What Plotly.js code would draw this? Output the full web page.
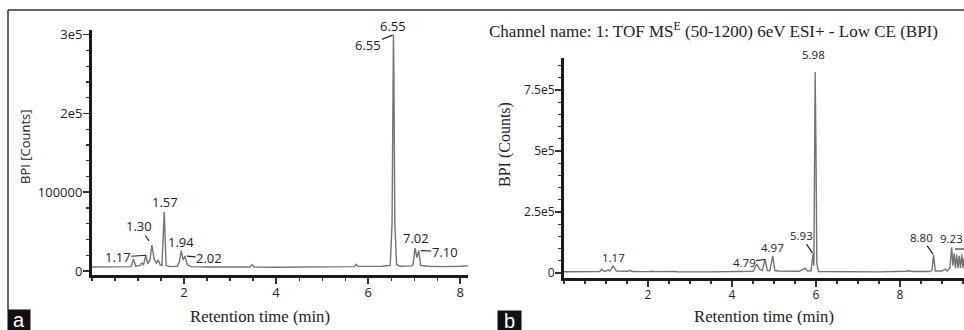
<!DOCTYPE html>
<html>
<head>
<meta charset="utf-8">
<script src="https://cdn.plot.ly/plotly-3.0.1.min.js"></script>
<style>html,body{margin:0;padding:0;background:#fff;}#chart{width:964px;height:330px;}</style>
</head>
<body>
<div id="chart"></div>
<script>
// ---- Panel a data: retention time (min) vs BPI counts ----
const timeA = [0.00,0.30,0.60,0.85,0.90,0.95,1.05,1.08,1.12,1.17,1.21,1.26,1.30,1.35,1.40,1.44,1.48,1.52,1.57,1.61,1.70,1.85,1.90,1.94,1.98,2.02,2.07,2.15,2.50,3.00,3.44,3.48,3.52,4.00,5.00,5.70,5.74,5.78,6.30,6.48,6.52,6.54,6.55,6.56,6.58,6.62,6.70,6.95,6.98,7.02,7.06,7.10,7.14,7.30,7.60,8.00,8.17];
const countsA = [5000,5200,5000,5500,15000,6000,7000,10000,8000,20000,9000,14000,33000,15000,10000,14000,8000,7000,75000,7000,5500,6000,12000,26000,14000,19000,8000,5500,5000,4800,5000,8000,5000,4800,5000,5500,8500,5800,6000,7000,60000,260000,300000,250000,60000,8000,6000,6500,9000,29000,17000,26000,7000,6000,5500,6000,6500];
const labelsA = ['1.17','1.30','1.57','1.94','2.02','6.55','6.55','7.02','7.10'];
const labelTimesA = [1.17,1.30,1.57,1.94,2.02,6.55,6.55,7.02,7.10];
const yTickValsA = [0,100000,200000,300000];
const yTickTextA = ['0','100000','2e5','3e5'];
const xTickValsA = [2,4,6,8];

// ---- Panel b data ----
const timeB = [0.00,0.50,0.85,0.90,0.95,1.00,1.05,1.09,1.17,1.25,1.40,1.52,1.57,1.62,1.90,1.96,2.02,2.10,2.18,2.60,2.70,3.50,4.20,4.50,4.59,4.66,4.72,4.79,4.84,4.90,4.97,5.02,5.10,5.60,5.74,5.80,5.88,5.93,5.95,5.96,5.98,6.00,6.02,6.06,6.50,7.50,8.15,8.20,8.30,8.70,8.76,8.80,8.84,9.00,9.08,9.12,9.19,9.23,9.26,9.29,9.32,9.35,9.38,9.41,9.44,9.47,9.50,9.52];
const countsB = [5000,5000,6000,15000,7000,8000,13000,8000,29000,8000,6000,7000,11000,6000,5500,7000,5500,7000,5500,6500,5000,4500,5000,7000,36000,15000,10000,56000,10000,9000,70000,10000,8000,7000,19000,8000,9000,78000,30000,300000,824000,500000,40000,6000,5000,4500,7000,9000,6000,6000,10000,74000,8000,8000,16000,8000,20000,105000,30000,80000,20000,75000,20000,70000,20000,75000,20000,60000];
const labelsB = ['1.17','4.79','4.97','5.93','5.98','8.80','9.23'];
const labelTimesB = [1.17,4.79,4.97,5.93,5.98,8.80,9.23];
const yTickValsB = [0,250000,500000,750000];
const yTickTextB = ['0','2.5e5','5e5','7.5e5'];
const xTickValsB = [2,4,6,8];

// ---- label placement (pixels), separate from data ----
// [type, dx, dy, standoff]; type 'arrow' => leader line; 'free' => text only
const placeA = [['arrow',-28,2,0],['arrow',-13,-19,5],['free',1,-10],['free',0,-9],['arrow',24,2,2],['free',0,-9],['arrow',-25,10,1],['free',1,-10],['arrow',26,1,2]];
const placeB = [['free',0,-8],['arrow',-21,3,0],['free',0,-8],['arrow',-12,-18,1],['free',-2,-17],['arrow',-12,-17,1],['free',0,-9]];

function nearestCount(times, counts, t){
  let best = 0;
  for (let i = 1; i < times.length; i++) if (Math.abs(times[i]-t) < Math.abs(times[best]-t)) best = i;
  return counts[best];
}

const W = 964, H = 330;
const px = v => v / W;
const py = v => (H - v) / H;

const sans = 'Open Sans, Noto Sans, sans-serif';
const serif = 'Liberation Serif, DejaVu Serif, serif';

function makeLabels(labels, times, tser, cser, place, xr, yr, size){
  return labels.map((txt, i) => {
    const p = place[i];
    const y = nearestCount(tser, cser, times[i]);
    const base = {x: times[i], y: y, xref: xr, yref: yr, text: txt,
      font: {family: sans, size: size, color: '#222'}};
    if (p[0] === 'arrow') {
      return Object.assign(base, {showarrow: true, arrowhead: 0, arrowwidth: 1.2, arrowcolor: '#222',
        ax: p[1], ay: p[2], standoff: p[3], borderpad: 0});
    }
    return Object.assign(base, {showarrow: false, xshift: p[1], yshift: -p[2], yanchor: 'middle', xanchor: 'center'});
  });
}

const traces = [
  {x: timeA, y: countsA, type: 'scatter', mode: 'lines', xaxis: 'x', yaxis: 'y',
   line: {color: '#747474', width: 1.4}, hoverinfo: 'skip'},
  {x: timeB, y: countsB, type: 'scatter', mode: 'lines', xaxis: 'x2', yaxis: 'y2',
   line: {color: '#747474', width: 1.4}, hoverinfo: 'skip'}
];

const axisCommon = {showline: true, linewidth: 3, linecolor: '#1a1a1a', ticks: 'outside', ticklen: 6,
  tickwidth: 1.5, tickcolor: '#333', showgrid: false, zeroline: false, fixedrange: true};

function paperText(x, y, text, font, extra){
  return Object.assign({xref: 'paper', yref: 'paper', x: px(x), y: py(y), text: text, showarrow: false,
    xanchor: 'center', yanchor: 'middle', font: font}, extra || {});
}

const layout = {
  width: W, height: H, autosize: false,
  margin: {l: 0, r: 0, t: 0, b: 0},
  paper_bgcolor: '#fff', plot_bgcolor: 'rgba(0,0,0,0)',
  showlegend: false,
  xaxis: Object.assign({}, axisCommon, {domain: [px(92), px(468)], range: [0, 8.17], anchor: 'y',
    tickmode: 'array', tickvals: xTickValsA, ticktext: xTickValsA.map(String), ticklabelstandoff: -3,
    tickfont: {family: sans, size: 13, color: '#222'},
    minor: {ticks: 'outside', ticklen: 3, tickwidth: 1.2, tickcolor: '#333', dtick: 0.5, tick0: 0}}),
  yaxis: Object.assign({}, axisCommon, {domain: [py(275), py(30)], range: [-5100, 306000], anchor: 'x',
    tickmode: 'array', tickvals: yTickValsA, ticktext: yTickTextA, ticklabelstandoff: -2,
    tickfont: {family: sans, size: 13, color: '#222'},
    minor: {ticks: 'outside', ticklen: 3, tickwidth: 1.2, tickcolor: '#333', dtick: 20000, tick0: 0}}),
  xaxis2: Object.assign({}, axisCommon, {domain: [px(564), 1], range: [0, 9.524], anchor: 'y2',
    tickmode: 'array', tickvals: xTickValsB, ticktext: xTickValsB.map(String), ticklabelstandoff: -2,
    tickfont: {family: sans, size: 12, color: '#222'},
    minor: {ticks: 'outside', ticklen: 3, tickwidth: 1.2, tickcolor: '#333', dtick: 0.5, tick0: 0}}),
  yaxis2: Object.assign({}, axisCommon, {domain: [py(278), py(58)], range: [-20500, 881000], anchor: 'x2',
    tickmode: 'array', tickvals: yTickValsB, ticktext: yTickTextB, ticklabelstandoff: -2,
    tickfont: {family: sans, size: 12, color: '#222'},
    minor: {ticks: 'outside', ticklen: 3, tickwidth: 1.2, tickcolor: '#333', dtick: 50000, tick0: 0}}),
  shapes: [
    {type: 'line', xref: 'paper', yref: 'paper', x0: px(8), x1: 1, y0: py(10), y1: py(10), line: {color: '#333', width: 1.5}},
    {type: 'line', xref: 'paper', yref: 'paper', x0: px(8), x1: px(8), y0: py(10), y1: py(310), line: {color: '#333', width: 1.5}},
    {type: 'line', xref: 'paper', yref: 'paper', x0: px(955), x1: 1, y0: py(249), y1: py(249), line: {color: '#333', width: 1.2}}
  ],
  annotations: [].concat(
    makeLabels(labelsA, labelTimesA, timeA, countsA, placeA, 'x', 'y', 13),
    makeLabels(labelsB, labelTimesB, timeB, countsB, placeB, 'x2', 'y2', 11.5),
    [
      paperText(25, 147, 'BPI [Counts]', {family: sans, size: 13, color: '#222'}, {textangle: -90}),
      paperText(505, 145, 'BPI (Counts)', {family: serif, size: 16, color: '#222'}, {textangle: -90}),
      paperText(260, 316, 'Retention time (min)', {family: serif, size: 16.7, color: '#222'}),
      paperText(764, 316, 'Retention time (min)', {family: serif, size: 16.7, color: '#222'}),
      paperText(487, 30, 'Channel name: 1: TOF MS<sup>E</sup> (50-1200) 6eV ESI+ - Low CE (BPI)',
        {family: serif, size: 17, color: '#222'}, {xanchor: 'left'}),
      paperText(19, 320, 'a', {family: 'Liberation Sans, Arial, sans-serif', size: 20, color: '#fff'},
        {width: 22, height: 20, bgcolor: '#111', borderpad: 0}),
      paperText(509.5, 320.5, 'b', {family: 'Liberation Sans, Arial, sans-serif', size: 20, color: '#fff'},
        {width: 23, height: 19, bgcolor: '#111', borderpad: 0})
    ]
  )
};

Plotly.newPlot('chart', traces, layout, {staticPlot: true, displayModeBar: false});
</script>
</body>
</html>
